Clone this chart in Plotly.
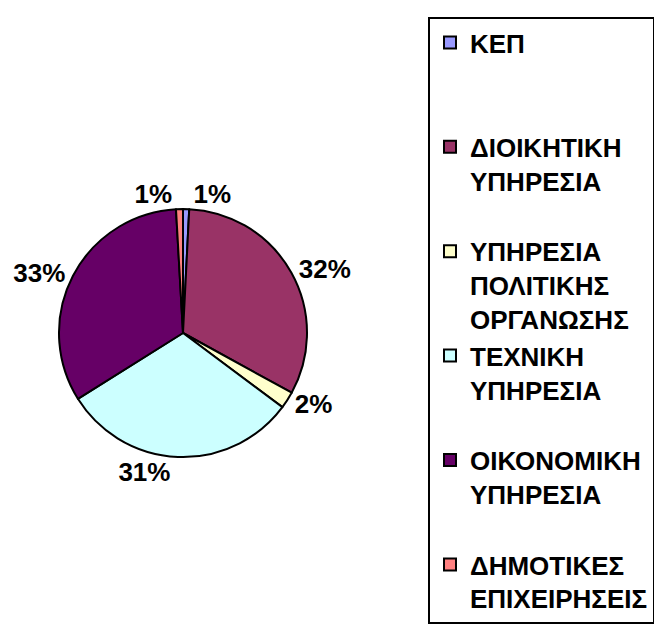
import plotly.graph_objects as go

category_lines = [["ΚΕΠ"], ["ΔΙΟΙΚΗΤΙΚΗ", "ΥΠΗΡΕΣΙΑ"], ["ΥΠΗΡΕΣΙΑ", "ΠΟΛΙΤΙΚΗΣ", "ΟΡΓΑΝΩΣΗΣ"],
                  ["ΤΕΧΝΙΚΗ", "ΥΠΗΡΕΣΙΑ"], ["ΟΙΚΟΝΟΜΙΚΗ", "ΥΠΗΡΕΣΙΑ"], ["ΔΗΜΟΤΙΚΕΣ", "ΕΠΙΧΕΙΡΗΣΕΙΣ"]]
# blank lines added after each legend label to reproduce the legend spacing
legend_padding = [2, 1, 0, 1, 1, 0]
values = [0.8, 32.2, 2.2, 30.9, 33.0, 0.9]
colors = ["#9999FF", "#993366", "#FFFFCC", "#CCFFFF", "#660066", "#FF8080"]

labels = ["<br>".join("<b>" + ln + "</b>" for ln in lines) + "<br> " * p
          for lines, p in zip(category_lines, legend_padding)]

# page body has an 8px margin, so the figure is drawn 8px in from the window corner
OFF = 8
W, H = 662 - OFF, 643 - OFF
cx, cy, r = 183 - OFF, 333 - OFF, 124

FONT = "Liberation Sans"

fig = go.Figure(go.Pie(
    labels=labels,
    values=values,
    sort=False,
    direction="clockwise",
    rotation=0,
    marker=dict(colors=colors, line=dict(color="black", width=2)),
    textposition="outside",
    texttemplate="%{percent:.0%}",
    textfont=dict(family=FONT, size=26, color="black", weight="bold"),
    domain=dict(x=[(cx - r) / W, (cx + r) / W], y=[1 - (cy + r) / H, 1 - (cy - r) / H]),
))

fig.update_layout(
    width=W, height=H,
    margin=dict(l=0, r=0, t=0, b=0),
    legend=dict(
        x=(428 - OFF) / W, xanchor="left",
        y=1 - (17 - OFF) / H, yanchor="top",
        bordercolor="black",
        borderwidth=2,
        valign="top",
        font=dict(family=FONT, size=26, color="black", weight="bold"),
    ),
    showlegend=True,
)

fig.write_html("out.html")
